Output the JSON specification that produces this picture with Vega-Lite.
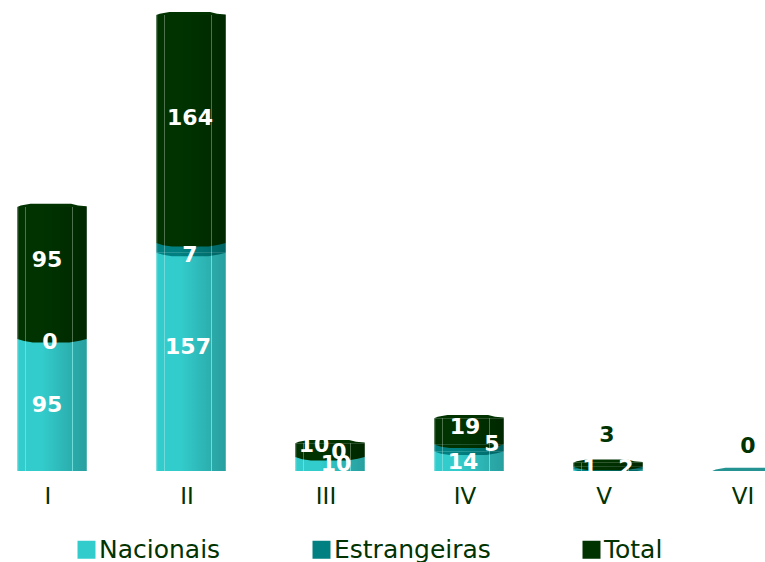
{
"$schema":"https://vega.github.io/schema/vega-lite/v6.json",
"width":765,"height":471,"autosize":"none",
"padding":{"left":0,"right":0,"top":0,"bottom":91},
"background":"white",
"config":{"view":{"stroke":null},"font":"DejaVu Sans"},
"data":{"values":[
{"grupo":"I","serie":"Nacionais","ordem":1,"valor":95},
{"grupo":"I","serie":"Estrangeiras","ordem":2,"valor":0},
{"grupo":"I","serie":"Total","ordem":3,"valor":95},
{"grupo":"II","serie":"Nacionais","ordem":1,"valor":157},
{"grupo":"II","serie":"Estrangeiras","ordem":2,"valor":7},
{"grupo":"II","serie":"Total","ordem":3,"valor":164},
{"grupo":"III","serie":"Nacionais","ordem":1,"valor":10},
{"grupo":"III","serie":"Estrangeiras","ordem":2,"valor":0},
{"grupo":"III","serie":"Total","ordem":3,"valor":10},
{"grupo":"IV","serie":"Nacionais","ordem":1,"valor":14},
{"grupo":"IV","serie":"Estrangeiras","ordem":2,"valor":5},
{"grupo":"IV","serie":"Total","ordem":3,"valor":19},
{"grupo":"V","serie":"Nacionais","ordem":1,"valor":1},
{"grupo":"V","serie":"Estrangeiras","ordem":2,"valor":2},
{"grupo":"V","serie":"Total","ordem":3,"valor":3},
{"grupo":"VI","serie":"Nacionais","ordem":1,"valor":0},
{"grupo":"VI","serie":"Estrangeiras","ordem":2,"valor":0},
{"grupo":"VI","serie":"Total","ordem":3,"valor":0}
]},
"transform":[{"stack":"valor","groupby":["grupo"],"sort":[{"field":"ordem","order":"ascending"}],"as":["s0","s1"]}],
"encoding":{
"x":{"field":"grupo","type":"nominal","title":null,
"scale":{"domain":["I","II","III","IV","V","VI"],"range":[-17.5,816.5],"paddingInner":0.5,"paddingOuter":0.25},
"axis":{"domain":false,"ticks":false,"grid":false,"labelAngle":0,"labelFont":"DejaVu Sans","labelFontSize":23,"labelColor":"#003300","labelOffset":-4,"labelPadding":14}},
"y":{"field":"s1","type":"quantitative","title":null,
"scale":{"domain":[0,338.85],"nice":false,"zero":false},
"axis":null}
},
"layer":[
{"transform":[{"filter":"datum.valor>0"}],
"mark":{"type":"bar"},
"encoding":{"y2":{"field":"s0"},
"color":{"field":"serie","type":"nominal","title":null,
"scale":{"domain":["Nacionais","Estrangeiras","Total"],"range":["#33CCCC","#008080","#003300"]},
"legend":{"orient":"none","legendX":74,"legendY":537,"direction":"horizontal","columns":3,"columnPadding":88,"symbolType":"square","symbolSize":324,"symbolStrokeWidth":0,"symbolOpacity":1,"labelFont":"DejaVu Sans","labelFontSize":25,"labelColor":"#003300","labelOffset":0,"labelLimit":300,"padding":0}}}},
{"transform":[{"filter":"datum.valor>0 && datum.s0>0"}],
"mark":{"type":"point","clip":true,"filled":true,"opacity":1,"size":4830,"strokeWidth":0,"shape":"M-1,0 L-0.8,0.06 L-0.55,0.1 L0.5,0.1 L0.8,0.05 L1,0 Z"},
"encoding":{"y":{"field":"s0","type":"quantitative"},
"color":{"field":"serie","type":"nominal","legend":null}}},
{"transform":[{"filter":"(datum.ordem==3 && datum.valor>0) || (datum.grupo=='VI' && datum.ordem==2)"}],
"mark":{"type":"point","filled":true,"size":4830,"strokeWidth":0,"shape":"M-1,0 L-0.9,-0.04 L-0.62,-0.09 L-0.45,-0.09 L0.55,-0.09 L0.75,-0.04 L1,-0.02 L1,0 Z"},
"encoding":{"color":{"field":"serie","type":"nominal","legend":null},
"opacity":{"condition":{"test":"datum.grupo=='VI'","value":0.85},"value":1}}},
{"transform":[{"filter":"datum.valor>0"}],
"mark":{"type":"bar","fill":{"gradient":"linear","x1":0,"y1":0,"x2":1,"y2":0,"stops":[
{"offset":0,"color":"rgba(255,255,255,0.25)"},
{"offset":0.03,"color":"rgba(255,255,255,0)"},
{"offset":0.11,"color":"rgba(255,255,255,0)"},
{"offset":0.11,"color":"rgba(255,255,255,0.3)"},
{"offset":0.125,"color":"rgba(255,255,255,0.3)"},
{"offset":0.125,"color":"rgba(255,255,255,0)"},
{"offset":0.35,"color":"rgba(0,0,0,0)"},
{"offset":0.79,"color":"rgba(0,0,0,0.15)"},
{"offset":0.79,"color":"rgba(255,255,255,0.3)"},
{"offset":0.805,"color":"rgba(255,255,255,0.3)"},
{"offset":0.805,"color":"rgba(0,0,0,0.17)"},
{"offset":1,"color":"rgba(0,0,0,0.22)"}]}},
"encoding":{"y2":{"field":"s0"}}},
{"transform":[{"filter":"datum.grupo!='VI' || datum.ordem==3"}],
"mark":{"type":"text","font":"DejaVu Sans","fontWeight":"bold","fontSize":22,"baseline":"middle","align":"center",
"dx":{"expr":"{'I1':-5,'I2':-2,'I3':-5,'II1':-3,'II2':-1,'II3':-1,'III1':6,'III2':9,'III3':-16,'IV1':-6,'IV2':23,'IV3':-4,'V1':-18,'V2':18,'V3':-1,'VI3':1}[datum.grupo+datum.ordem]"},
"dy":{"expr":"{'I1':-66,'I2':3,'I3':-79,'II1':-124,'II2':2,'II3':-125,'III1':-7,'III2':-5,'III3':-12,'IV1':-9,'IV2':-8,'IV3':-18,'V1':-3,'V2':-2,'V3':-32,'VI3':-25}[datum.grupo+datum.ordem]"}},
"encoding":{"y":{"field":"s0","type":"quantitative"},
"text":{"field":"valor","type":"quantitative"},
"color":{"condition":{"test":"datum.ordem==3 && (datum.grupo=='V' || datum.grupo=='VI')","value":"#003300"},"value":"#FFFFFF"}}}
]
}
